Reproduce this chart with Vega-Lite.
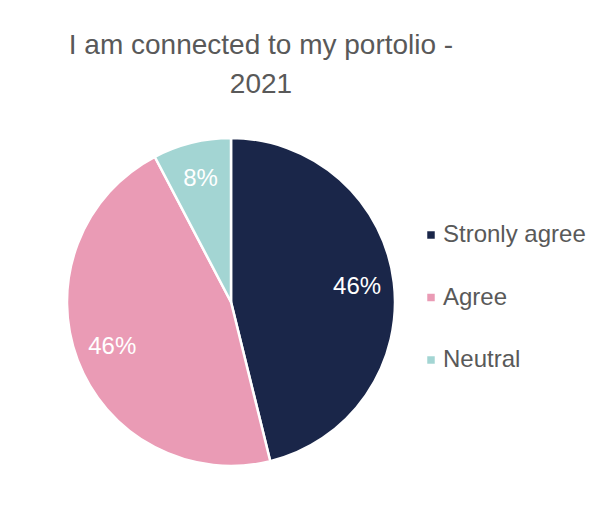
{
  "$schema": "https://vega.github.io/schema/vega-lite/v6.json",
  "width": 458,
  "height": 438,
  "autosize": "none",
  "padding": {"left": 2, "top": 83, "right": 144, "bottom": 0},
  "background": "white",
  "title": {
    "text": ["I am connected to my portolio -", "2021"],
    "font": "Liberation Sans",
    "fontSize": 28,
    "fontWeight": "normal",
    "color": "#595959",
    "lineHeight": 39,
    "baseline": "alphabetic",
    "offset": -38,
    "dx": 30
  },
  "config": {"view": {"stroke": null}},
  "data": {
    "values": [
      {"category": "Stronly agree", "count": 6, "label": "46%", "rank": 1},
      {"category": "Agree", "count": 6, "label": "46%", "rank": 2},
      {"category": "Neutral", "count": 1, "label": "8%", "rank": 3}
    ]
  },
  "encoding": {
    "theta": {"field": "count", "type": "quantitative", "stack": true},
    "order": {"field": "rank", "type": "quantitative"},
    "color": {
      "field": "category",
      "type": "nominal",
      "scale": {
        "domain": ["Stronly agree", "Agree", "Neutral"],
        "range": ["#1a2649", "#ea9bb5", "#a3d5d3"]
      },
      "legend": {
        "title": null,
        "orient": "none",
        "legendX": 417,
        "legendY": 140,
        "symbolType": "square",
        "symbolSize": 56,
        "symbolStrokeWidth": 0,
        "labelFont": "Liberation Sans",
        "labelFontSize": 24,
        "labelColor": "#595959",
        "labelOffset": 0,
        "rowPadding": 38.5,
        "padding": 0
      }
    }
  },
  "layer": [
    {
      "mark": {"type": "arc", "radius": 164, "stroke": "white", "strokeWidth": 2.5}
    },
    {
      "mark": {"type": "text", "radius": 127, "font": "Liberation Sans", "fontSize": 24},
      "encoding": {
        "text": {"field": "label"},
        "color": {"value": "white"}
      }
    }
  ]
}
